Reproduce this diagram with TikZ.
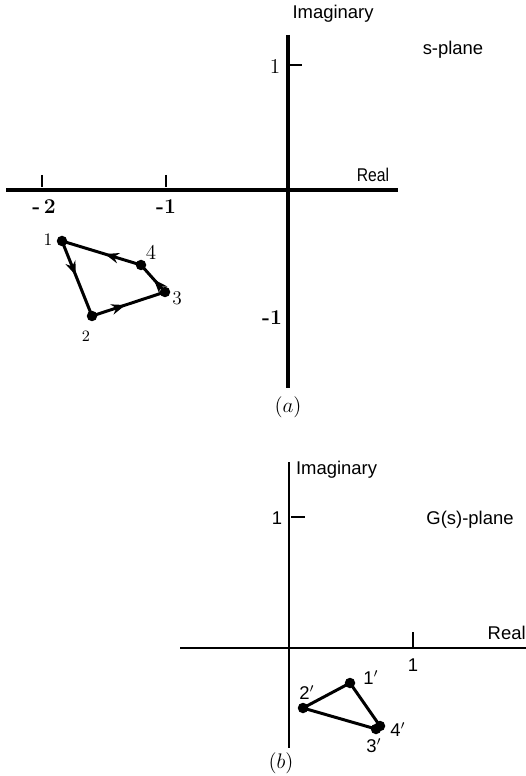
\documentclass[tikz,border=0pt]{standalone}
\usepackage{fontspec}
\newfontfamily\axfont{Liberation Sans}
\usepackage{tikz}
\usetikzlibrary{arrows.meta,decorations.markings,positioning}

\begin{document}
\begin{tikzpicture}[
  x=0.02cm,y=-0.02cm,
  axis/.style={line width=1.9pt},
  thinaxis/.style={line width=0.7pt},
  tick/.style={line width=0.9pt},
  dot/.style={circle,fill=black,inner sep=0pt,minimum size=0.21cm},
  edge/.style={line width=1.7pt,shorten <=-1pt,shorten >=-1pt},
  arr/.style={edge,postaction={decorate},
              decoration={markings,mark=at position 0.45 with {\arrow{Stealth[length=8pt,width=6pt]}}}},
  sans/.style={font=\axfont\fontsize{10.5}{12}\selectfont,inner sep=1pt},
  num/.style={font=\bfseries\fontsize{12}{14}\selectfont,inner sep=1pt},
  pt/.style={font=\fontsize{11}{12}\selectfont,inner sep=1pt}
]
  \useasboundingbox (0,0) rectangle (526,776);

  % (a) s-plane
  \coordinate (oA) at (288,190);
  \coordinate (xA0) at (6,190);
  \coordinate (xA1) at (398,190);
  \coordinate (yA0) at (288,35);
  \coordinate (yA1) at (288,388);
  \draw[axis](xA0)--(xA1);
  \draw[axis](yA0)--(yA1);
  \draw[tick](42,175)--(42,187);
  \draw[tick](166,175)--(166,187);
  \draw[tick](288,65)--(302,65);

  \node[sans](imA) at (333,14){Imaginary};
  \node[sans](spl) at (453,50){s-plane};
  \node[sans,xscale=0.85,font=\axfont\fontsize{10.5}{12}\selectfont](reA) at (373,175){Real};
  \node[num](m2) at (44,207){-\,2};
  \node[num](m1) at (166,207){-1};
  \node[font=\fontsize{12}{14}\selectfont,inner sep=1pt](one) at (275,66){1};
  \node[num](mi1) at (272,318){-1};
  \node[font=\fontsize{12}{14}\selectfont,inner sep=1pt](capA) at (288,407){$(a)$};

  \node[dot](p1) at (62,241){};
  \node[dot](p2) at (92,316){};
  \node[dot](p3) at (165,292){};
  \node[dot](p4) at (141,265){};
  \draw[arr](p1)--(p2);
  \draw[arr](p2)--(p3);
  \draw[arr](p3)--(p4);
  \draw[arr](p4)--(p1);
  \node[pt,font=\fontsize{10}{12}\selectfont](l1) at (48,240){1};
  \node[pt,font=\fontsize{9}{10}\selectfont](l2) at (86,336){2};
  \node[pt](l3) at (177,298){3};
  \node[pt,font=\fontsize{12}{14}\selectfont](l4) at (151,252){4};

  % (b) G(s)-plane
  \coordinate (oB) at (289,648);
  \coordinate (xB0) at (180,648);
  \coordinate (xB1) at (526,648);
  \coordinate (yB0) at (289,462);
  \coordinate (yB1) at (289,748);
  \draw[thinaxis](xB0)--(xB1);
  \draw[thinaxis](yB0)--(yB1);
  \draw[thinaxis](413,632)--(413,648);
  \draw[thinaxis](291,517)--(305,517);

  \node[sans,anchor=west](imB) at (294,470){Imaginary};
  \node[sans](gpl) at (470,520){G(s)-plane};
  \node[sans,anchor=east,inner xsep=0pt](reB) at (526,633){Real};
  \node[sans](oneB) at (413,665){1};
  \node[sans](oneBi) at (277,518){1};
  \node[font=\fontsize{12}{14}\selectfont,inner sep=1pt](capB) at (281,763){$(b)$};

  \node[dot](q1) at (350,683){};
  \node[dot](q2) at (303,708){};
  \node[dot](q4) at (380,726){};
  \node[dot](q3) at (376,729){};
  \draw[edge](q2)--(q1);
  \draw[edge](q1)--(q4);
  \draw[edge](q2)--(q3);
  \node[sans](k1) at (371,678){1$'$};
  \node[sans](k2) at (307,693){2$'$};
  \node[sans](k4) at (398,730){4$'$};
  \node[sans](k3) at (374,746){3$'$};
\end{tikzpicture}
\end{document}
